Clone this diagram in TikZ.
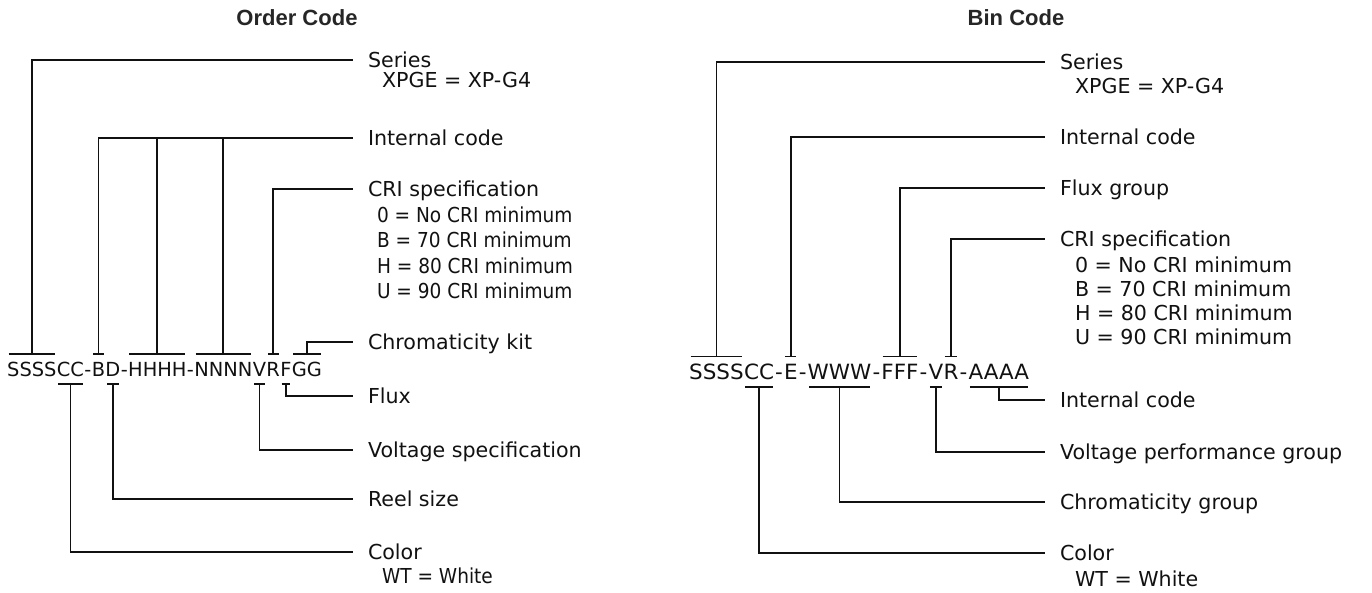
\documentclass[tikz,border=0pt]{standalone}
\usepackage{fontspec}
\setmainfont{DejaVu Sans}
\newfontfamily\titlefont{Liberation Sans}
\newfontfamily\narrowfont[FakeStretch=0.9]{DejaVu Sans}
\newfontfamily\widefont[FakeStretch=1.022]{DejaVu Sans}
\usetikzlibrary{positioning}
\definecolor{inkblack}{HTML}{111111}
\definecolor{titlegray}{HTML}{262626}
\tikzset{
  codeline/.style={
    draw=inkblack,
    line width=1.8pt
  },
  codebar/.style={
    codeline,
    shorten <=1.5pt,
    shorten >=1.5pt
  },
  leftcode/.style={
    inner sep=0pt,
    text height=14.1pt,
    text depth=0pt,
    text=inkblack,
    font=\fontsize{19.4}{23}\selectfont
  },
  rightcode/.style={
    inner sep=0pt,
    text height=15.3pt,
    text depth=0pt,
    text=inkblack,
    font=\widefont\fontsize{21}{25}\selectfont
  },
  rightdash/.style={
    rightcode,
    inner xsep=0.75pt
  },
  partlabel/.style={
    anchor=west,
    inner sep=0pt,
    outer xsep=15pt,
    text height=15pt,
    text depth=0pt,
    text=inkblack,
    font=\fontsize{20.6}{25}\selectfont
  },
  narrownote/.style={
    partlabel,
    font=\narrowfont\fontsize{20.6}{25}\selectfont
  },
  headline/.style={
    font=\titlefont\bfseries\fontsize{22}{26}\selectfont,
    text=titlegray
  }
}

\begin{document}
\begin{tikzpicture}[x=1pt,y=-1pt,node distance=0pt]
\useasboundingbox (0,0) rectangle (1372,592);

% titles
\node[headline] (ordertitle) at (297,18) {Order Code};
\node[headline] (bintitle) at (1016,18) {Bin Code};

% order code string
\node[leftcode,anchor=base west] (lss) at (7,376) {SSSS};
\node[leftcode,right=of lss] (lcc) {CC};
\node[leftcode,right=of lcc] (lda) {-};
\node[leftcode,right=of lda] (lb) {B};
\node[leftcode,right=of lb] (ld) {D};
\node[leftcode,right=of ld] (ldb) {-};
\node[leftcode,right=of ldb] (lhh) {HHHH};
\node[leftcode,right=of lhh] (ldc) {-};
\node[leftcode,right=of ldc] (lnn) {NNNN};
\node[leftcode,right=of lnn] (lv) {V};
\node[leftcode,right=of lv] (lr) {R};
\node[leftcode,right=of lr] (lf) {F};
\node[leftcode,right=of lf] (lgg) {GG};

\foreach \s in {lss,lb,lhh,lnn,lr,lgg}
  \draw[codebar] ([yshift=8pt]\s.north west) -- ([yshift=8pt]\s.north east);
\foreach \s in {lcc,ld,lv,lf}
  \draw[codebar] ([yshift=-8pt]\s.south west) -- ([yshift=-8pt]\s.south east);

% order code labels
\node[partlabel] (lseries) at (353,60) {Series};
\node[partlabel] (lseriesval) at ([xshift=14pt,yshift=-20pt]lseries.west) {XPGE = XP-G4};
\node[partlabel] (lintl) at (353,138) {Internal code};
\node[partlabel] (lcri) at (353,189) {CRI specification};
\foreach \k/\v [count=\i] in {0/No,B/70,H/80,U/90}
  \node[narrownote] (lcri\i) at ([xshift=9pt,yshift={-26pt-25.3pt*(\i-1)}]lcri.west) {\k\ = \v\ CRI minimum};
\node[partlabel] (lkit) at (353,342) {Chromaticity kit};
\node[partlabel] (lflux) at (353,396) {Flux};
\node[partlabel] (lvolt) at (353,450) {Voltage specification};
\node[partlabel] (lreel) at (353,499) {Reel size};
\node[partlabel] (lcolor) at (353,552) {Color};
\node[narrownote] (lcolorval) at ([xshift=14pt,yshift=-24pt]lcolor.west) {WT = White};

\draw[codeline] ([yshift=8pt]lss.north) |- (lseries.west);
\draw[codeline] ([yshift=8pt]lb.north) |- (lintl.west);
\draw[codeline] ([yshift=8pt]lhh.north) -- (lhh.north |- lintl.west);
\draw[codeline] ([yshift=8pt]lnn.north) -- (lnn.north |- lintl.west);
\draw[codeline] ([yshift=8pt]lr.north) |- (lcri.west);
\draw[codeline] ([yshift=8pt]lgg.north) |- (lkit.west);
\draw[codeline] ([yshift=-8pt]lf.south) |- (lflux.west);
\draw[codeline] ([yshift=-8pt]lv.south) |- (lvolt.west);
\draw[codeline] ([yshift=-8pt]ld.south) |- (lreel.west);
\draw[codeline] ([yshift=-8pt]lcc.south) |- (lcolor.west);

% bin code string
\node[rightcode,anchor=base west] (rss) at (689,379) {SSSS};
\node[rightcode,right=of rss] (rcc) {CC};
\node[rightdash,right=of rcc] (rda) {-};
\node[rightcode,right=of rda] (re) {E};
\node[rightdash,right=of re] (rdb) {-};
\node[rightcode,right=of rdb] (rww) {WWW};
\node[rightdash,right=of rww] (rdc) {-};
\node[rightcode,right=of rdc] (rff) {FFF};
\node[rightdash,right=of rff] (rdd) {-};
\node[rightcode,right=of rdd] (rv) {V};
\node[rightcode,right=of rv] (rr) {R};
\node[rightdash,right=of rr] (rde) {-};
\node[rightcode,right=of rde] (raa) {AAAA};

\foreach \s in {rss,re,rff,rr}
  \draw[codebar] ([yshift=7pt]\s.north west) -- ([yshift=7pt]\s.north east);
\foreach \s in {rcc,rww,rv,raa}
  \draw[codebar] ([yshift=-8pt]\s.south west) -- ([yshift=-8pt]\s.south east);

% bin code labels
\node[partlabel] (rseries) at (1045,62) {Series};
\node[partlabel] (rseriesval) at ([xshift=15pt,yshift=-24pt]rseries.west) {XPGE = XP-G4};
\node[partlabel] (rintl) at (1045,137) {Internal code};
\node[partlabel] (rflux) at (1045,188) {Flux group};
\node[partlabel] (rcri) at (1045,239) {CRI specification};
\foreach \k/\v [count=\i] in {0/No,B/70,H/80,U/90}
  \node[partlabel] (rcri\i) at ([xshift=15pt,yshift={-26pt-24pt*(\i-1)}]rcri.west) {\k\ = \v\ CRI minimum};
\node[partlabel] (rintlb) at (1045,400) {Internal code};
\node[partlabel] (rvolt) at (1045,452) {Voltage performance group};
\node[partlabel] (rchrom) at (1045,502) {Chromaticity group};
\node[partlabel] (rcolor) at (1045,553) {Color};
\node[partlabel] (rcolorval) at ([xshift=15pt,yshift=-26pt]rcolor.west) {WT = White};

\draw[codeline] ([yshift=7pt]rss.north) |- (rseries.west);
\draw[codeline] ([yshift=7pt]re.north) |- (rintl.west);
\draw[codeline] ([yshift=7pt]rff.north) |- (rflux.west);
\draw[codeline] ([yshift=7pt]rr.north) |- (rcri.west);
\draw[codeline] ([yshift=-8pt]raa.south) |- (rintlb.west);
\draw[codeline] ([yshift=-8pt]rv.south) |- (rvolt.west);
\draw[codeline] ([yshift=-8pt]rww.south) |- (rchrom.west);
\draw[codeline] ([yshift=-8pt]rcc.south) |- (rcolor.west);
\end{tikzpicture}
\end{document}
